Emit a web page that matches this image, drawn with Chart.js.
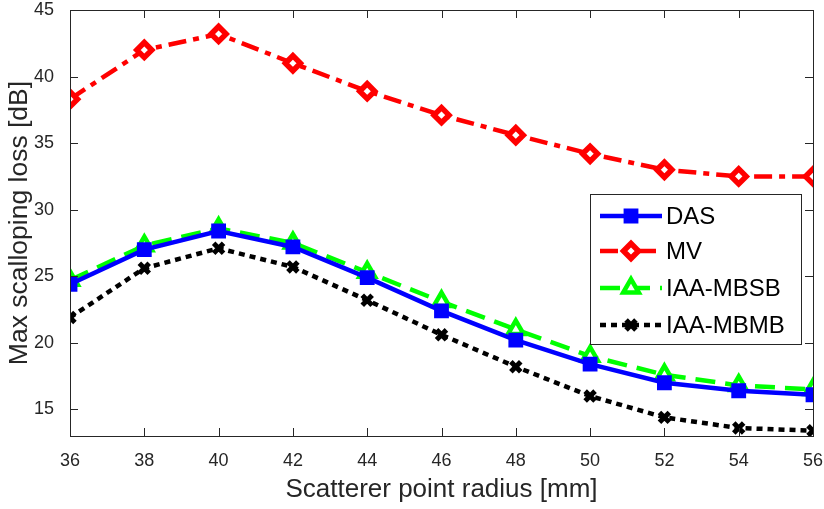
<!DOCTYPE html>
<html>
<head>
<meta charset="utf-8">
<script src="https://cdn.jsdelivr.net/npm/chart.js@4.4.1/dist/chart.umd.min.js"></script>
<style>
  html, body { margin: 0; padding: 0; background: #fff; }
  #wrap { width: 824px; height: 509px; }
</style>
</head>
<body>
<div id="wrap"><canvas id="loss-chart" width="824" height="509"></canvas></div>
<script>
  // Scatterer radius (mm) and max scalloping loss (dB) per beamformer.
  const radius = [36, 38, 40, 42, 44, 46, 48, 50, 52, 54, 56];
  const das = [24.4, 27.0, 28.4, 27.2, 24.9, 22.4, 20.2, 18.4, 17.0, 16.4, 16.1];
  const mv = [38.3, 42.0, 43.2, 41.0, 38.9, 37.1, 35.6, 34.2, 33.0, 32.5, 32.5];
  const mbsb = [24.7, 27.3, 28.6, 27.5, 25.3, 23.1, 21.0, 19.0, 17.6, 16.8, 16.5];
  const mbmb = [21.9, 25.6, 27.1, 25.7, 23.2, 20.6, 18.2, 16.0, 14.4, 13.6, 13.4];

  const xTicks = [36, 38, 40, 42, 44, 46, 48, 50, 52, 54, 56];
  const yTicks = [15, 20, 25, 30, 35, 40, 45];

  const axisColor = '#262626';
  const fontFamily = '"Liberation Sans", Arial, sans-serif';

  function toPoints(values) {
    return values.map((v, i) => ({ x: radius[i], y: v }));
  }

  const series = [
    { label: 'DAS', data: das, color: '#0000ff', dash: [], style: 'rect', fill: '#0000ff', r: 8, bw: 3.5 },
    { label: 'MV', data: mv, color: '#ff0000', dash: [18, 7, 6, 7], style: 'rectRot', fill: '#ffffff', r: 7.5, bw: 5.5 },
    { label: 'IAA-MBSB', data: mbsb, color: '#00ff00', dash: [20, 10], style: 'triangle', fill: '#ffffff', r: 9, bw: 4.5 },
    { label: 'IAA-MBMB', data: mbmb, color: '#000000', dash: [6, 5], style: 'crossRot', fill: '#000000', r: 7, bw: 5 }
  ];

  // Box around the axes with inward ticks on all four sides.
  const boxTicks = {
    id: 'boxTicks',
    afterDraw(chart) {
      const { ctx, chartArea: a, scales } = chart;
      const len = 8;
      ctx.save();
      ctx.strokeStyle = axisColor;
      ctx.lineWidth = 1;
      ctx.strokeRect(a.left + 0.5, a.top + 0.5, a.right - a.left, a.bottom - a.top);
      ctx.beginPath();
      xTicks.forEach((t) => {
        const x = Math.round(scales.x.getPixelForValue(t)) + 0.5;
        ctx.moveTo(x, a.bottom); ctx.lineTo(x, a.bottom - len);
        ctx.moveTo(x, a.top); ctx.lineTo(x, a.top + len);
      });
      yTicks.forEach((t) => {
        const y = Math.round(scales.y.getPixelForValue(t)) + 0.5;
        ctx.moveTo(a.left, y); ctx.lineTo(a.left + len, y);
        ctx.moveTo(a.right, y); ctx.lineTo(a.right - len, y);
      });
      ctx.stroke();
      ctx.restore();
    }
  };

  // Legend with line sample and marker, boxed in the upper right.
  const lineLegend = {
    id: 'lineLegend',
    afterDraw(chart) {
      const { ctx } = chart;
      const box = { x: 590, y: 194, w: 211, h: 150 };
      const rowY = [216, 251, 288, 325];
      ctx.save();
      ctx.fillStyle = '#ffffff';
      ctx.fillRect(box.x, box.y, box.w, box.h);
      ctx.strokeStyle = axisColor;
      ctx.lineWidth = 1;
      ctx.strokeRect(box.x + 0.5, box.y + 0.5, box.w, box.h);
      series.forEach((s, i) => {
        const y = rowY[i];
        ctx.beginPath();
        ctx.setLineDash(s.dash);
        ctx.strokeStyle = s.color;
        ctx.lineWidth = 4.5;
        ctx.moveTo(600, y);
        ctx.lineTo(662, y);
        ctx.stroke();
        ctx.setLineDash([]);
        ctx.fillStyle = s.fill;
        ctx.lineWidth = s.bw;
        Chart.helpers.drawPoint(ctx, { pointStyle: s.style, radius: s.r, borderWidth: s.bw }, 631, y);
        ctx.fillStyle = '#000000';
        ctx.font = '24px ' + fontFamily;
        ctx.textBaseline = 'middle';
        ctx.fillText(s.label, 666, y + 1);
      });
      ctx.restore();
    }
  };

  new Chart(document.getElementById('loss-chart').getContext('2d'), {
    type: 'line',
    data: {
      datasets: series.map((s) => ({
        label: s.label,
        data: toPoints(s.data),
        borderColor: s.color,
        borderWidth: 4.5,
        borderDash: s.dash,
        pointStyle: s.style,
        pointRadius: s.r,
        pointBorderWidth: s.bw,
        pointBorderColor: s.color,
        pointBackgroundColor: s.fill,
        tension: 0
      }))
    },
    options: {
      responsive: false,
      animation: false,
      layout: { autoPadding: false, padding: { top: 10, right: 11, left: 0, bottom: 0 } },
      plugins: { legend: { display: false }, tooltip: { enabled: false } },
      scales: {
        x: {
          type: 'linear',
          min: 36,
          max: 56,
          afterBuildTicks: (scale) => { scale.ticks = xTicks.map((v) => ({ value: v })); },
          afterFit: (scale) => {
            scale.height = 73;
            scale.paddingLeft = 0;
            scale.paddingRight = 0;
          },
          grid: { display: false },
          border: { display: false },
          ticks: { color: axisColor, font: { family: fontFamily, size: 18 }, padding: 6, maxRotation: 0 },
          title: { display: true, text: 'Scatterer point radius [mm]', color: axisColor, font: { family: fontFamily, size: 26 }, padding: { top: 2 } }
        },
        y: {
          min: 13,
          max: 45,
          afterBuildTicks: (scale) => { scale.ticks = yTicks.map((v) => ({ value: v })); },
          afterFit: (scale) => {
            scale.width = 70;
            scale.paddingTop = 0;
            scale.paddingBottom = 0;
          },
          grid: { display: false },
          border: { display: false },
          ticks: { color: axisColor, font: { family: fontFamily, size: 18 }, padding: 8 },
          title: { display: true, text: 'Max scalloping loss [dB]', color: axisColor, font: { family: fontFamily, size: 26.5 }, padding: { top: 4, bottom: 4 } }
        }
      }
    },
    plugins: [boxTicks, lineLegend]
  });
</script>
</body>
</html>
